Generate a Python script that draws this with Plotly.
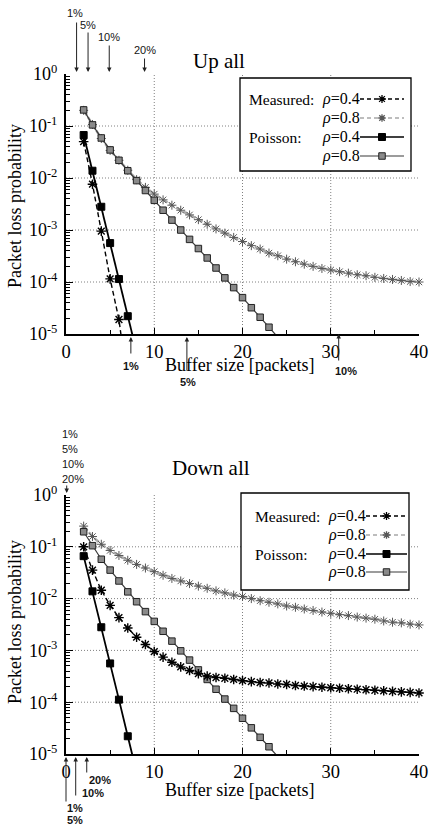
import numpy as np
import plotly.graph_objects as go

W, H = 430, 831
SERIF = "Liberation Serif"
SANS = "Liberation Sans"

# ---------------- data ----------------
# Up all
up_meas04_x = [2, 3, 4, 5, 6, 7]
up_meas04_y = [5.0e-2, 7.6e-3, 9.5e-4, 1.15e-4, 1.9e-5, 1.0e-6]

up_meas08_x = list(range(2, 41))
up_meas08_y = [2.0e-1, 1.07e-1, 5.75e-2, 3.39e-2, 2.19e-2, 1.41e-2, 9.3e-3, 6.6e-3, 4.9e-3,
               3.8e-3, 3.0e-3, 2.4e-3, 1.95e-3, 1.58e-3, 1.29e-3, 1.05e-3, 8.7e-4, 7.2e-4,
               6.0e-4, 5.0e-4, 4.3e-4, 3.6e-4, 3.2e-4, 2.75e-4, 2.45e-4, 2.2e-4, 2.0e-4,
               1.82e-4, 1.7e-4, 1.58e-4, 1.48e-4, 1.38e-4, 1.32e-4, 1.23e-4, 1.17e-4,
               1.12e-4, 1.07e-4, 1.02e-4, 1.0e-4]

up_pois04_x = [2, 3, 4, 5, 6, 7, 8]
up_pois04_y = [6.7e-2, 1.38e-2, 2.8e-3, 5.6e-4, 1.14e-4, 2.2e-5, 4.5e-6]

up_pois08_x = list(range(2, 25))
up_pois08_y = [2.04e-1, 1.05e-1, 5.89e-2, 3.47e-2, 2.19e-2, 1.38e-2, 8.9e-3, 5.75e-3,
               3.72e-3, 2.4e-3, 1.55e-3, 1.0e-3, 6.6e-4, 4.4e-4, 2.9e-4, 1.86e-4, 1.2e-4,
               7.8e-5, 5.0e-5, 3.2e-5, 2.1e-5, 1.35e-5, 8.7e-6]

# Down all
down_meas04_x = list(range(2, 41))
down_meas04_y = [1.0e-1, 3.55e-2, 1.45e-2, 7.4e-3, 4.3e-3, 2.7e-3, 1.8e-3, 1.3e-3, 9.5e-4,
                 7.4e-4, 5.9e-4, 4.8e-4, 4.1e-4, 3.55e-4, 3.2e-4, 3.0e-4, 2.9e-4, 2.75e-4,
                 2.6e-4, 2.5e-4, 2.4e-4, 2.35e-4, 2.25e-4, 2.2e-4, 2.1e-4, 2.05e-4, 2.0e-4,
                 1.95e-4, 1.9e-4, 1.86e-4, 1.82e-4, 1.78e-4, 1.74e-4, 1.7e-4, 1.66e-4,
                 1.62e-4, 1.58e-4, 1.55e-4, 1.51e-4]

down_meas08_x = list(range(2, 41))
down_meas08_y = [2.51e-1, 1.58e-1, 1.12e-1, 8.5e-2, 6.8e-2, 5.5e-2, 4.57e-2, 3.89e-2, 3.31e-2,
                 2.82e-2, 2.45e-2, 2.19e-2, 1.95e-2, 1.74e-2, 1.58e-2, 1.41e-2, 1.29e-2,
                 1.17e-2, 1.1e-2, 1.0e-2, 9.1e-3, 8.5e-3, 7.9e-3, 7.2e-3, 6.8e-3, 6.3e-3,
                 5.9e-3, 5.5e-3, 5.2e-3, 4.9e-3, 4.7e-3, 4.4e-3, 4.2e-3, 4.0e-3, 3.7e-3,
                 3.5e-3, 3.4e-3, 3.2e-3, 3.1e-3]

down_pois04_x = [2, 3, 4, 5, 6, 7, 8]
down_pois04_y = [6.6e-2, 1.38e-2, 2.8e-3, 5.6e-4, 1.12e-4, 2.2e-5, 4.4e-6]

down_pois08_x = list(range(2, 25))
down_pois08_y = [1.95e-1, 1.05e-1, 5.75e-2, 3.55e-2, 2.19e-2, 1.35e-2, 8.7e-3, 5.6e-3,
                 3.63e-3, 2.34e-3, 1.51e-3, 9.8e-4, 6.5e-4, 4.2e-4, 2.75e-4, 1.78e-4,
                 1.15e-4, 7.6e-5, 4.9e-5, 3.2e-5, 2.1e-5, 1.38e-5, 8.9e-6]

# percentile markers
up_top_pct_labels = ["1%", "5%", "10%", "20%"]
up_top_pct_x = [1.2, 2.5, 4.9, 8.9]
up_bot_pct_labels = ["1%", "5%", "10%"]
up_bot_pct_x = [7.35, 13.7, 30.9]
down_top_pct_labels = ["1%", "5%", "10%", "20%"]
down_top_pct_x = [0.08]
down_bot_pct_labels = ["20%", "10%", "1%", "5%"]
down_bot_pct_x = [0.0, 1.1, 2.35]

x_ticks = [0, 10, 20, 30, 40]
x_minor = [5, 15, 25, 35]
x_grid = [10, 20, 30]
y_ticks = [1, 1e-1, 1e-2, 1e-3, 1e-4, 1e-5]
y_ticktext = ["10<sup>0</sup>", "10<sup>-1</sup>", "10<sup>-2</sup>", "10<sup>-3</sup>",
              "10<sup>-4</sup>", "10<sup>-5</sup>"]
y_grid = [1e-1, 1e-2, 1e-3, 1e-4]
Y_RANGE = [-5, 0]
X_RANGE = [0, 40]

# ---------------- helpers ----------------
def fx(p):
    return p / W

def fy(p):
    return 1 - p / H

X_DOM = [fx(66), fx(419)]
PANELS = [
    dict(xa="x", ya="y", top=74, bot=334),
    dict(xa="x2", ya="y2", top=495, bot=754),
]

STY = {
    "m08": dict(line=dict(color="#a8a8a8", width=2.4, dash="6px,2px"),
                marker=dict(symbol="asterisk-open", size=7.5, color="#575757",
                            line=dict(color="#575757", width=1.0))),
    "p08": dict(line=dict(color="#3a3a3a", width=1.2),
                marker=dict(symbol="square", size=6.5, color="#8a8a8a",
                            line=dict(color="#222222", width=1))),
    "m04": dict(line=dict(color="black", width=1.4, dash="5px,3px"),
                marker=dict(symbol="asterisk-open", size=8, color="black",
                            line=dict(color="black", width=1.4))),
    "p04": dict(line=dict(color="black", width=1.8),
                marker=dict(symbol="square", size=7, color="black",
                            line=dict(color="black", width=1))),
}

fig = go.Figure()

panel_series = [
    [("m08", up_meas08_x, up_meas08_y, False), ("p08", up_pois08_x, up_pois08_y, True),
     ("m04", up_meas04_x, up_meas04_y, True), ("p04", up_pois04_x, up_pois04_y, True)],
    [("m08", down_meas08_x, down_meas08_y, False), ("p08", down_pois08_x, down_pois08_y, True),
     ("m04", down_meas04_x, down_meas04_y, False), ("p04", down_pois04_x, down_pois04_y, True)],
]

for pan, series in zip(PANELS, panel_series):
    for key, xs, ys, clip in series:
        fig.add_trace(go.Scatter(x=xs, y=ys, mode="lines+markers", xaxis=pan["xa"],
                                 yaxis=pan["ya"], cliponaxis=clip, showlegend=False,
                                 hoverinfo="skip", **STY[key]))

minor_y = [m * 10.0 ** d for d in range(-5, 0) for m in range(2, 10)]

def xaxis_cfg(anchor):
    return dict(domain=X_DOM, anchor=anchor, range=X_RANGE, tickmode="array",
                tickvals=x_ticks, ticks="inside", ticklen=6, tickwidth=1, tickcolor="black",
                showline=True, linewidth=1.5, linecolor="black", showgrid=False,
                zeroline=False, tickfont=dict(family=SERIF, size=18.5, color="black"),
                minor=dict(tickmode="array", tickvals=x_minor, ticks="inside", ticklen=4,
                           tickcolor="black", showgrid=False),
                automargin=False, ticklabeloverflow="allow", fixedrange=True)

def yaxis_cfg(anchor, top, bot):
    return dict(domain=[fy(bot), fy(top)], anchor=anchor, type="log", range=Y_RANGE,
                tickmode="array", tickvals=y_ticks, ticktext=y_ticktext, ticks="inside",
                ticklen=7, tickwidth=1.2, tickcolor="black", showline=True, linewidth=2,
                linecolor="black", showgrid=False, zeroline=False,
                tickfont=dict(family=SERIF, size=18, color="black"), ticklabelstandoff=3,
                minor=dict(tickmode="array", tickvals=minor_y, ticks="inside", ticklen=3.5,
                           tickcolor="black", showgrid=False),
                automargin=False, ticklabeloverflow="allow", fixedrange=True)

fig.update_layout(
    xaxis=xaxis_cfg("y"), yaxis=yaxis_cfg("x", 74, 334),
    xaxis2=xaxis_cfg("y2"), yaxis2=yaxis_cfg("x2", 495, 754),
)

shapes = []
GRID = dict(color="#808080", width=1, dash="1px,2px")
for pan in PANELS:
    xa, ya = pan["xa"], pan["ya"]
    for gx in x_grid:
        shapes.append(dict(type="line", xref=xa, yref=f"{ya} domain", x0=gx, x1=gx,
                           y0=0, y1=1, line=GRID, layer="below"))
    for gy in y_grid:
        yd = (np.log10(gy) - Y_RANGE[0]) / (Y_RANGE[1] - Y_RANGE[0])
        shapes.append(dict(type="line", xref=f"{xa} domain", yref=f"{ya} domain", x0=0, x1=1,
                           y0=yd, y1=yd, line=GRID, layer="below"))

annotations = []
TXT = "rgb(20,20,20)"

def text(px, py, s, size=16, family=SERIF, xanchor="center", angle=0, color="black"):
    annotations.append(dict(x=fx(px), y=fy(py), xref="paper", yref="paper", text=s,
                            showarrow=False, xanchor=xanchor, yanchor="middle",
                            textangle=angle, font=dict(family=family, size=size, color=color)))

# legends
LEGENDS = [
    dict(box=(240, 78, 411, 171), lab_x=247, rho_x=320, k0=360, k1=404,
         rows=(99, 118, 137, 156)),
    dict(box=(241, 493, 409, 590), lab_x=253, rho_x=326, k0=366, k1=407,
         rows=(516, 535, 554, 572)),
]
leg_entries = [("Measured:", "0.4", "m04"), ("", "0.8", "m08"),
               ("Poisson:", "0.4", "p04"), ("", "0.8", "p08")]

for lg in LEGENDS:
    x0, y0, x1, y1 = lg["box"]
    shapes.append(dict(type="rect", xref="paper", yref="paper", x0=fx(x0), x1=fx(x1),
                       y0=fy(y1), y1=fy(y0), fillcolor="white",
                       line=dict(color="black", width=1.3), layer="above"))
    for (lab, rho, key), ry in zip(leg_entries, lg["rows"]):
        if lab:
            text(lg["lab_x"], ry, lab, size=15.5, xanchor="left")
        text(lg["rho_x"], ry, "<i>ρ</i>=" + rho, size=16, xanchor="left")
        st = STY[key]
        ln = st["line"]
        dash = "4px,3px" if "dash" in ln else "solid"
        shapes.append(dict(type="line", xref="paper", yref="paper", x0=fx(lg["k0"]),
                           x1=fx(lg["k1"]), y0=fy(ry), y1=fy(ry),
                           line=dict(color=ln["color"], width=min(ln["width"], 1.6),
                                     dash=dash),
                           layer="above"))
        cx = (lg["k0"] + lg["k1"]) / 2
        mk = st["marker"]
        r = mk["size"] / 2
        if mk["symbol"] == "square":
            shapes.append(dict(type="rect", xref="paper", yref="paper", x0=fx(cx - r),
                               x1=fx(cx + r), y0=fy(ry + r), y1=fy(ry - r),
                               fillcolor=mk["color"],
                               line=dict(color=mk["line"]["color"], width=1), layer="above"))
        else:
            d = r * 0.72
            segs = [(cx - r, ry, cx + r, ry), (cx, ry - r, cx, ry + r),
                    (cx - d, ry - d, cx + d, ry + d), (cx - d, ry + d, cx + d, ry - d)]
            path = " ".join(f"M{fx(a)},{fy(b)} L{fx(c)},{fy(e)}" for a, b, c, e in segs)
            shapes.append(dict(type="path", xref="paper", yref="paper", path=path,
                               line=dict(color=mk["line"]["color"], width=1.3),
                               layer="above"))

# titles and axis titles
text(219, 61, "Up all", size=21)
text(211, 468, "Down all", size=21)
text(15, 206, "Packet loss probability", size=18, angle=-90)
text(15, 622, "Packet loss probability", size=18, angle=-90)
text(240, 365, "Buffer size [packets]", size=18)
text(240, 790, "Buffer size [packets]", size=18)

def arrow(xv, xref, tip_py, tail_py):
    annotations.append(dict(x=xv, xref=xref, y=fy(tip_py), yref="paper", ax=0,
                            ay=tail_py - tip_py, axref="pixel", ayref="pixel", text="",
                            showarrow=True, arrowhead=2, arrowsize=0.9, arrowwidth=1,
                            arrowcolor="#222222"))

def pct_label(xv, xref, py, s, xshift=0, bold=False):
    if bold:
        s = f"<b>{s}</b>"
    annotations.append(dict(x=xv, xref=xref, y=fy(py), yref="paper", text=s,
                            showarrow=False, xshift=xshift, xanchor="center",
                            yanchor="middle", font=dict(family=SANS, size=11, color=TXT)))

# Up: arrows above the plot
for lab, xv, tail, lab_y, xs in zip(up_top_pct_labels, up_top_pct_x, [21, 31, 44, 57],
                                   [13, 25, 37, 50], [-2, 0, 0, 0]):
    arrow(xv, "x", 72, tail)
    pct_label(xv, "x", lab_y, lab, xshift=xs)

# Up: arrows below the plot
for lab, xv, tip, tail, lab_y, xs in zip(up_bot_pct_labels, up_bot_pct_x, [337, 337, 334],
                                        [355, 372, 362], [366, 382, 371], [0, 1, 7]):
    arrow(xv, "x", tip, tail)
    pct_label(xv, "x", lab_y, lab, xshift=xs, bold=True)

# Down: stacked labels above the plot with one arrow
for lab, ly in zip(down_top_pct_labels, [434, 449, 464, 479]):
    annotations.append(dict(x=fx(60), y=fy(ly), xref="paper", yref="paper", text=lab,
                            showarrow=False, xanchor="left", yanchor="middle",
                            font=dict(family=SANS, size=11, color=TXT)))
arrow(down_top_pct_x[0], "x2", 493, 484)

# Down: arrows below the plot
for xv, tail in zip(down_bot_pct_x, [803, 797, 774]):
    arrow(xv, "x2", 757, tail)
for lab, (lx, ly) in zip(down_bot_pct_labels, [(87, 780), (80, 793), (65, 808), (65, 820)]):
    annotations.append(dict(x=fx(lx), y=fy(ly), xref="paper", yref="paper",
                            text=f"<b>{lab}</b>", showarrow=False, xanchor="left",
                            yanchor="middle", font=dict(family=SANS, size=11, color=TXT)))

fig.update_layout(
    template="none",
    width=W, height=H, margin=dict(l=0, r=0, t=0, b=0, autoexpand=False),
    paper_bgcolor="white", plot_bgcolor="white",
    font=dict(family=SERIF, color="black"),
    shapes=shapes, annotations=annotations, showlegend=False,
)

fig.write_html("out.html", config={"displayModeBar": False},
               post_script="document.body.style.margin='0px';"
                           "document.body.style.padding='0px';")
